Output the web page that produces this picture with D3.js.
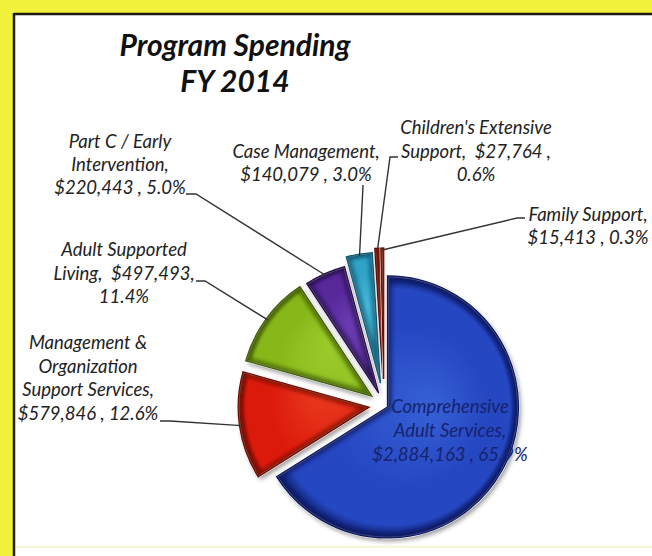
<!DOCTYPE html>
<html><head><meta charset="utf-8">
<script src="https://cdn.jsdelivr.net/npm/d3@7"></script>
<style>
html,body{margin:0;padding:0;background:#f1f13c;}
svg{display:block;}
text{white-space:pre;}
</style></head>
<body>
<svg id="c" width="652" height="556"></svg>
<script>
// ---- data ----
const categories = ["Comprehensive Adult Services","Management & Organization Support Services","Adult Supported Living","Part C / Early Intervention","Case Management","Children's Extensive Support","Family Support"];
const values = [2884163, 579846, 497493, 220443, 140079, 27764, 15413];
const percentLabels = ["65.9%","12.6%","11.4%","5.0%","3.0%","0.6%","0.3%"];
const titleLines = ["Program Spending","FY 2014"];

const fmt = v => "$" + d3.format(",")(v);
const labelLines = [
  ["Comprehensive","Adult Services,", `${fmt(values[0])} , ${percentLabels[0]}`],
  ["Management &","Organization","Support Services,", `${fmt(values[1])} , ${percentLabels[1]}`],
  ["Adult Supported", `Living,  ${fmt(values[2])},`, percentLabels[2]],
  ["Part C / Early","Intervention,", `${fmt(values[3])} , ${percentLabels[3]}`],
  ["Case Management,", `${fmt(values[4])} , ${percentLabels[4]}`],
  ["Children's Extensive", `Support,  ${fmt(values[5])} ,`, percentLabels[5]],
  ["Family Support,", `${fmt(values[6])} , ${percentLabels[6]}`]
];

// ---- style / layout ----
const palette = [
  {base:"#2647c2", light:"#3660d6", dark:"#0a1860"},
  {base:"#dc1a0c", light:"#ea3a1e", dark:"#6e0a02"},
  {base:"#88b818", light:"#9ccc2c", dark:"#425e06"},
  {base:"#56289a", light:"#6a3cb0", dark:"#240e4a"},
  {base:"#30a4c8", light:"#4cbcdc", dark:"#125a74"},
  {base:"#c22810", light:"#d84022", dark:"#640a02"},
  {base:"#cc3818", light:"#e2502a", dark:"#6c0e04"}
];
const explode = [4, 15, 15, 13, 22, 26, 26];
const cx = 384, cy = 405, R = 131;
const labelLayout = [
  {x:450, y:413, step:24, color:"#16236e"},
  {x:88,  y:349, step:23.5, leader:[[160,421],[170,421]]},
  {x:124, y:256, step:23.5, leader:[[196,281],[205,281]]},
  {x:120, y:148, step:23,  leader:[[186,194],[196,194]]},
  {x:306, y:158, step:23,  leader:[[363,185],[363,186]]},
  {x:476, y:134, step:23.5, leader:[[398,157],[390,157]]},
  {x:588, y:221, step:23,  leader:[[525,218],[517,218]]}
];

const svg = d3.select("#c");
const defs = svg.append("defs");

// frame
svg.append("rect").attr("x",0).attr("y",0).attr("width",652).attr("height",556).attr("fill","#f1f13c");
svg.append("rect").attr("x",13).attr("y",13).attr("width",660).attr("height",560).attr("fill","#ffffff");
svg.append("line").attr("x1",14).attr("x2",652).attr("y1",14).attr("y2",14).attr("stroke","#1a1a10").attr("stroke-width",2.5);
svg.append("line").attr("x1",14).attr("x2",14).attr("y1",13).attr("y2",556).attr("stroke","#1a1a10").attr("stroke-width",2.5);
svg.append("line").attr("x1",16).attr("x2",652).attr("y1",547).attr("y2",547).attr("stroke","#f6f4d2").attr("stroke-width",2);

// title
const title = svg.append("text").attr("text-anchor","middle")
  .attr("font-family","Lato, 'DejaVu Sans', sans-serif").attr("font-style","italic").attr("font-weight","bold")
  .attr("font-size",30).attr("fill","#111");
titleLines.forEach((t,i)=> title.append("tspan").attr("x",235).attr("y",56 + i*36).text(t));

// pie
const pie = d3.pie().sort(null).value(d=>d).startAngle(0).endAngle(2*Math.PI);
const arcs = pie(values);
const arc = d3.arc().innerRadius(0).outerRadius(R);

const shadow = defs.append("filter").attr("id","sh").attr("x","-20%").attr("y","-20%").attr("width","150%").attr("height","150%");
shadow.append("feGaussianBlur").attr("in","SourceAlpha").attr("stdDeviation",2.5).attr("result","b");
shadow.append("feOffset").attr("in","b").attr("dx",2).attr("dy",3).attr("result","o");
shadow.append("feComponentTransfer").attr("in","o").append("feFuncA").attr("type","linear").attr("slope",0.45);

defs.append("filter").attr("id","bl").append("feGaussianBlur").attr("stdDeviation",2.2);

const off = (d,i) => {
  const m = (d.startAngle + d.endAngle)/2;
  return [Math.sin(m)*explode[i], -Math.cos(m)*explode[i]];
};

const g = svg.append("g").attr("transform",`translate(${cx},${cy})`);

g.selectAll("path.sh").data(arcs).join("path").attr("class","sh")
  .attr("d",arc).attr("transform",(d,i)=>`translate(${off(d,i)})`)
  .attr("filter","url(#sh)").attr("fill","#2a1a00");

arcs.forEach((d,i)=>{
  const [ox,oy] = off(d,i);
  const p = palette[i];
  const m = (d.startAngle + d.endAngle)/2;
  const grad = defs.append("radialGradient").attr("id","gr"+i)
    .attr("gradientUnits","userSpaceOnUse").attr("cx",0).attr("cy",0).attr("r",R)
    .attr("fx",Math.sin(m)*R*0.4).attr("fy",-Math.cos(m)*R*0.4 - 25);
  grad.append("stop").attr("offset","0%").attr("stop-color",p.light);
  grad.append("stop").attr("offset","60%").attr("stop-color",p.base);
  grad.append("stop").attr("offset","90%").attr("stop-color",p.base);
  grad.append("stop").attr("offset","100%").attr("stop-color",p.dark);
  defs.append("clipPath").attr("id","cp"+i).append("path").attr("d",arc(d));
  const sg = g.append("g").attr("transform",`translate(${ox},${oy})`);
  sg.append("path").attr("d",arc(d)).attr("fill",`url(#gr${i})`)
    .attr("stroke","#ffffff").attr("stroke-width",2.5).attr("stroke-linejoin","round");
  sg.append("g").attr("clip-path",`url(#cp${i})`)
    .append("path").attr("d",arc(d)).attr("fill","none").attr("stroke",p.dark)
    .attr("stroke-width",8).attr("stroke-opacity",0.8).attr("filter","url(#bl)");
  sg.append("path").attr("d",arc(d)).attr("fill","none").attr("stroke",p.dark).attr("stroke-width",1.3);
});

// leaders
const lineGen = d3.line();
arcs.forEach((d,i)=>{
  const L = labelLayout[i];
  if(!L.leader) return;
  const tipArc = d3.arc().innerRadius(R + explode[i] - 2).outerRadius(R + explode[i] - 2);
  const [tx,ty] = tipArc.centroid(d);
  const pts = L.leader.concat([[cx+tx, cy+ty]]);
  svg.append("path").attr("d",lineGen(pts)).attr("fill","none")
    .attr("stroke","#333").attr("stroke-width",1.4);
});

// labels
labelLines.forEach((lines,i)=>{
  const L = labelLayout[i];
  const t = svg.append("text").attr("text-anchor","middle")
    .attr("font-family","Lato, 'DejaVu Sans', sans-serif").attr("font-style","italic")
    .attr("font-size",18.5).attr("fill",L.color || "#222");
  lines.forEach((s,k)=> t.append("tspan").attr("x",L.x).attr("y",L.y + k*L.step).text(s));
});
</script>
</body></html>
